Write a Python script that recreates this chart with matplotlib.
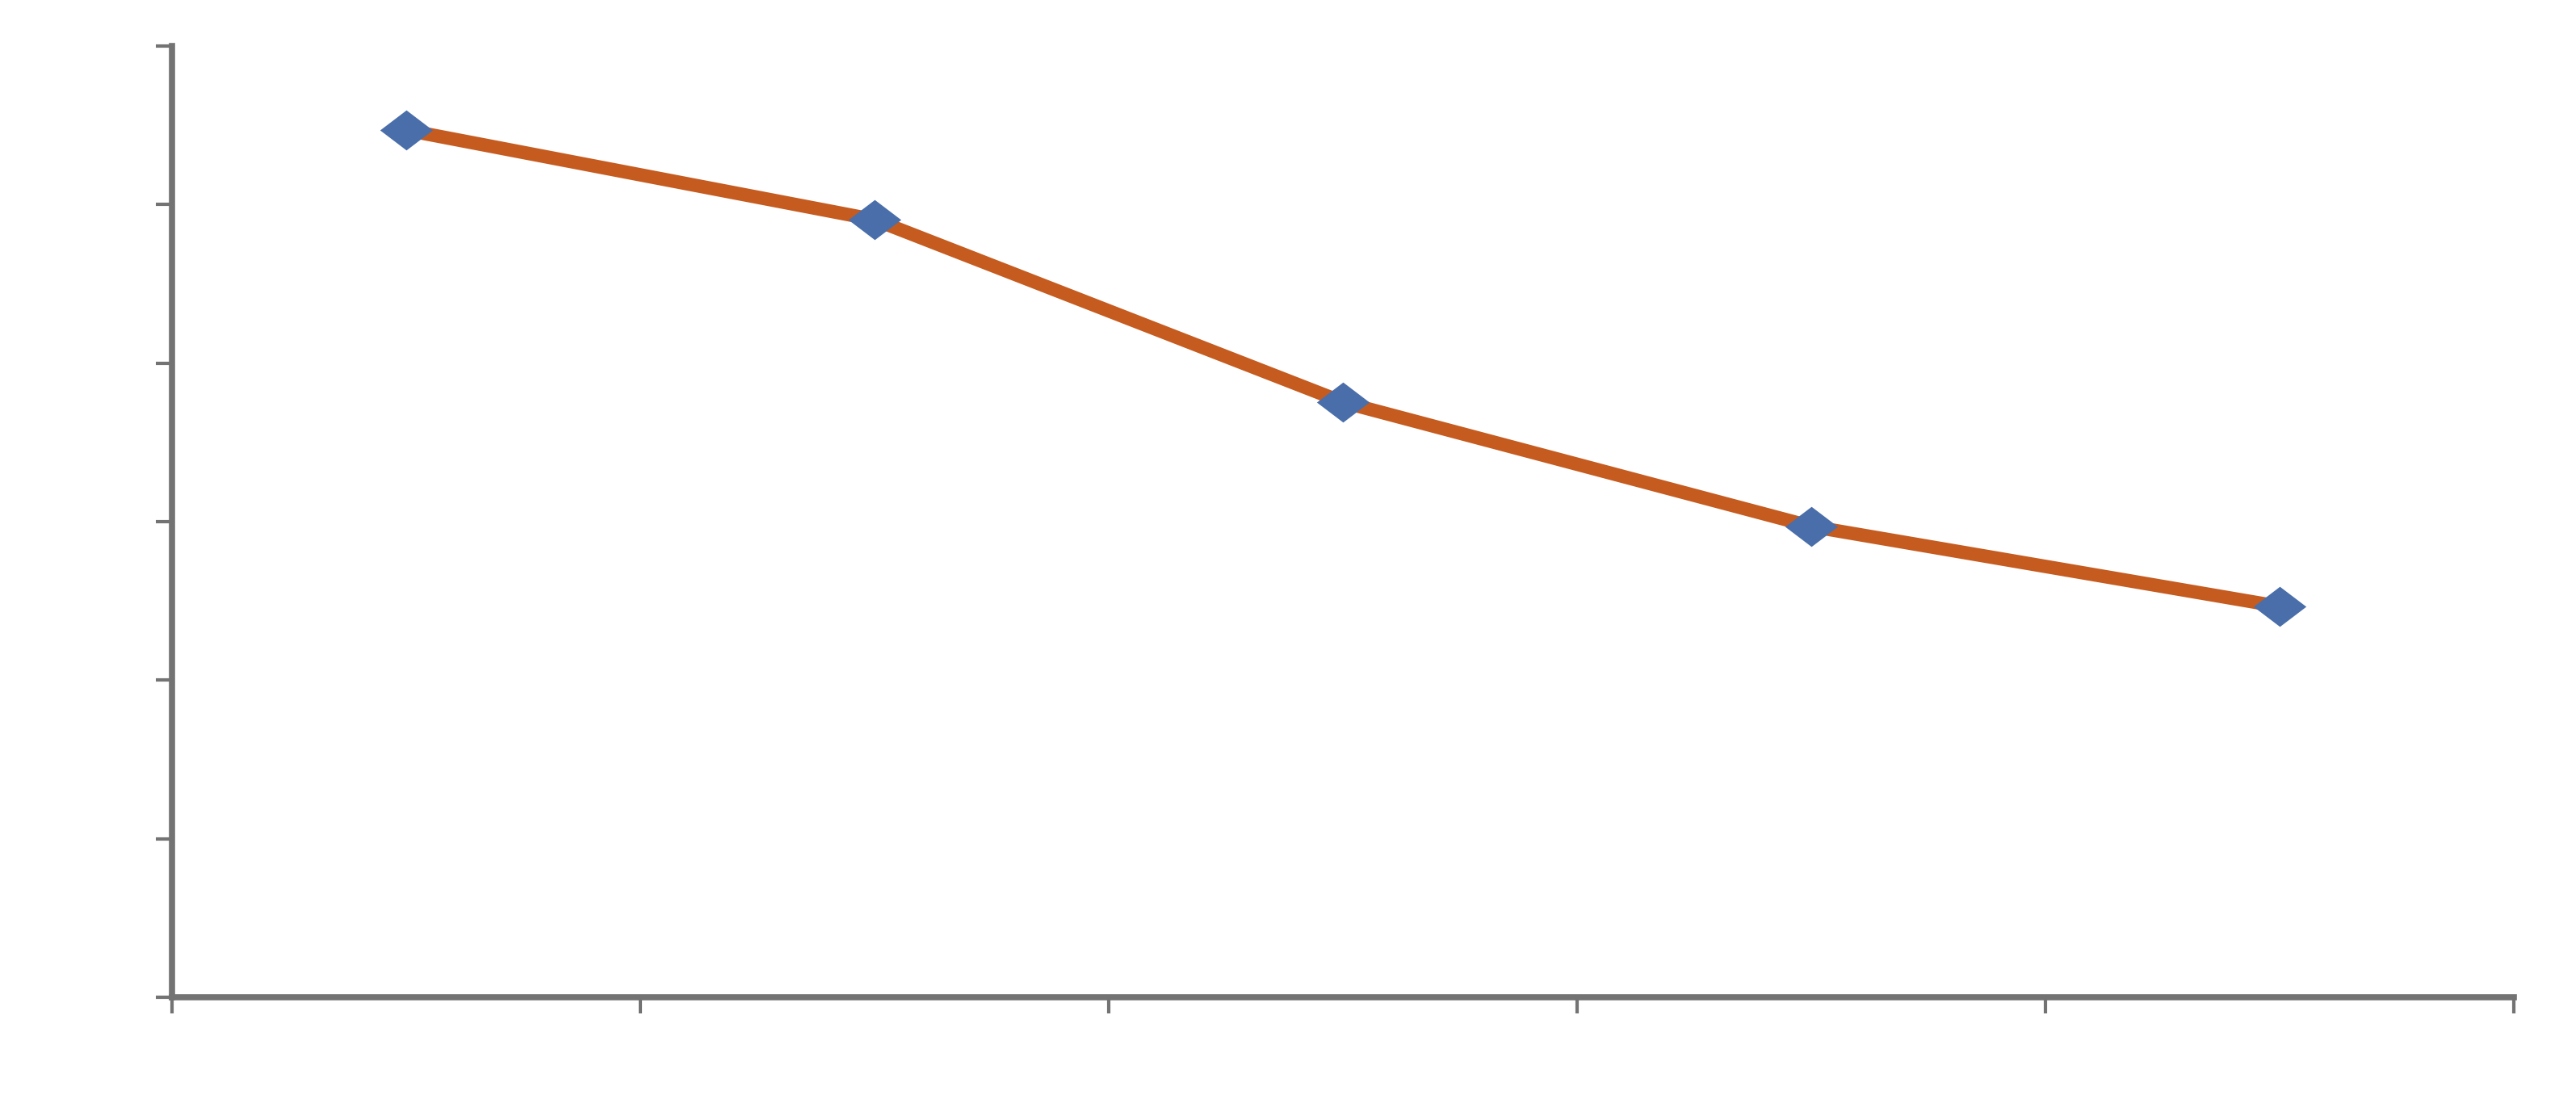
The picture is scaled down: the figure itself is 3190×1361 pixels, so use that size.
import matplotlib
matplotlib.use("Agg")
import matplotlib.pyplot as plt
import numpy as np

# Data (no visible labels)
categories = ["1", "2", "3", "4", "5"]
values = [5.47, 4.905, 3.754, 2.97, 2.465]
y_ticks = [0, 1, 2, 3, 4, 5, 6]

line_color = "#C65B1F"
marker_color = "#4A6EA9"
axis_color = "#737373"

W, H, DPI = 3190, 1361, 100
fig = plt.figure(figsize=(W / DPI, H / DPI), dpi=DPI)
ax = fig.add_axes([213 / W, 1 - 1235 / H, (3113 - 213) / W, (1235 - 57) / H])

x = np.arange(len(categories)) + 0.5
ax.plot(x, values, color=line_color, lw=12, solid_capstyle="butt", zorder=2)
diamond = [(-1, 0), (0, 0.76), (1, 0), (0, -0.76), (-1, 0)]
ax.plot(x, values, linestyle="none", marker=diamond, markersize=47,
        markerfacecolor=marker_color, markeredgecolor=marker_color,
        markeredgewidth=0, zorder=3)

ax.set_xlim(0, len(categories))
ax.set_ylim(y_ticks[0], y_ticks[-1])
ax.set_xticks(np.arange(len(categories) + 1))
ax.set_yticks(y_ticks)
ax.set_xticklabels([])
ax.set_yticklabels([])

for s in ["top", "right"]:
    ax.spines[s].set_visible(False)
for s in ["left", "bottom"]:
    ax.spines[s].set_color(axis_color)
    ax.spines[s].set_linewidth(5.5)
ax.tick_params(axis="both", direction="out", length=14.5, width=3,
               color=axis_color)

fig.savefig("out.png", dpi=DPI, facecolor="white")
